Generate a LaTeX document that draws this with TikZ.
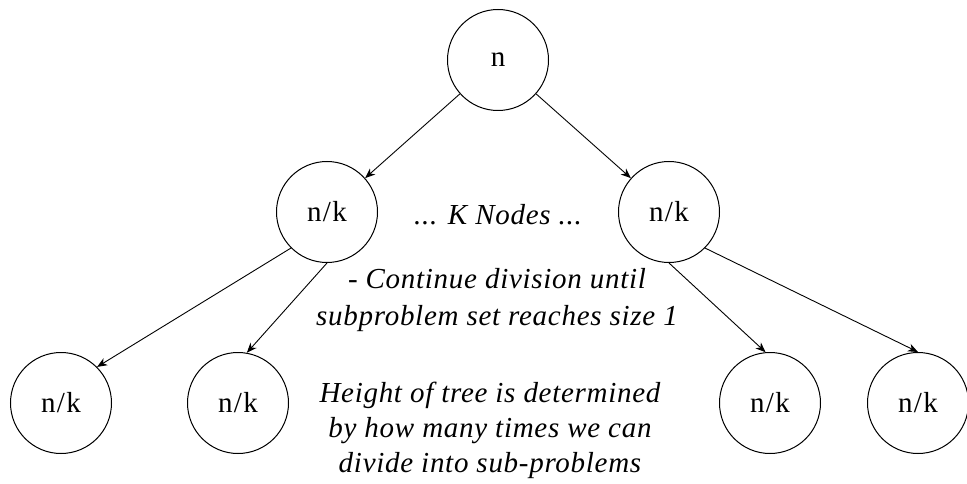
\documentclass[tikz,border=0pt]{standalone}
\usepackage{fontspec}
\setmainfont{Liberation Serif}
\newfontfamily\labelfont[LetterSpace=5]{Liberation Serif}
\newfontfamily\notefont[LetterSpace=2.5]{Liberation Serif}
\usetikzlibrary{arrows.meta}
\begin{document}
\begin{tikzpicture}[x=1pt,y=-1pt,
  circ/.style={circle,draw,line width=1pt,minimum size=101pt,inner sep=0pt,
    font=\labelfont\fontsize{29}{33}\selectfont},
  link/.style={line width=0.9pt,-{Stealth[length=10pt,width=8pt,inset=3pt]}},
  note/.style={align=center,inner sep=0pt,font=\notefont\fontsize{29}{35}\selectfont\itshape}]
\useasboundingbox (0,0) rectangle (967,484);

% tree nodes
\node[circ] (root) at (498,60)  {n};
\node[circ] (ml)   at (327,212) {n/k};
\node[circ] (mr)   at (669,212) {n/k};
\node[circ] (b1)   at (61,403)  {n/k};
\node[circ] (b2)   at (238,403) {n/k};
\node[circ] (b3)   at (770,403) {n/k};
\node[circ] (b4)   at (918,403) {n/k};

% annotations
\node[note] (knodes) at (498,215) {... K Nodes ...};
\node[note,font=\notefont\fontsize{29}{37}\selectfont\itshape] (cont) at (497,300)
  {- Continue division until\\subproblem set reaches size 1};
\node[note] (height) at (490,430) {Height of tree is determined\\by how many times we can\\divide into sub-problems};

% connectors
\draw[link] (root) -- (ml);
\draw[link] (root) -- (mr);
\draw[link] (ml.south west) -- (b1.north east);
\draw[link] (ml.south) -- (b2.80);
\draw[link] (mr.south) -- (b3.95);
\draw[link] (mr.south east) -- (b4.north);
\end{tikzpicture}
\end{document}
